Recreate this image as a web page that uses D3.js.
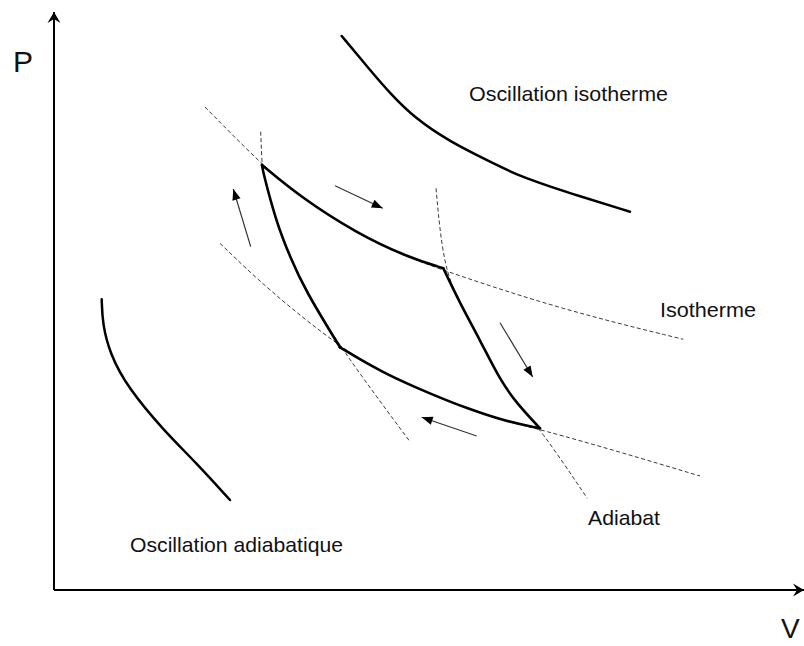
<!DOCTYPE html>
<html>
<head>
<meta charset="utf-8">
<script src="https://cdn.jsdelivr.net/npm/d3@7"></script>
<style>
  html, body { margin: 0; padding: 0; background: #fff; }
  svg { display: block; }
  text { font-family: "Liberation Sans", Arial, sans-serif; fill: #111; }
</style>
</head>
<body>
<svg id="chart" width="804" height="646"></svg>
<script>
// ---- Data (V, P) in arbitrary units ----
const axisLabels = { x: "V", y: "P" };

const oscIsotherme = [[28.77,55.4],[31.6,52.0],[33.6,49.67],[36.1,47.17],[39.6,44.83],[43.27,43.0],[46.6,41.33],[51.6,39.67],[57.6,37.83]];
const oscAdiabatique = [[4.77,29.07],[4.85,26.6],[5.6,23.6],[7.4,20.2],[10.93,16.0],[14.27,12.67],[17.6,9.0]];

// Cycle segments
const isoHot = [[20.8,42.5],[24.6,39.33],[30.27,35.67],[35.27,33.33],[38.93,32.17]];
const adiaDown = [[38.93,32.17],[40.6,28.67],[42.6,25.0],[44.6,21.0],[46.27,18.67],[48.6,16.17]];
const isoCold = [[48.6,16.17],[45.27,16.83],[41.27,18.17],[37.93,19.5],[32.93,21.67],[28.6,24.27]];
const adiaUp = [[28.6,24.27],[25.1,30.0],[23.6,33.33],[22.27,36.67],[20.93,41.67],[20.8,42.5]];

// Dashed guide curves
const guideIsoHot = [[15.1,48.3],[20.8,42.5],[24.6,39.33],[30.27,35.67],[35.27,33.33],[39.27,31.83],[50.93,28.0],[62.93,25.07]];
const guideIsoCold = [[16.6,34.67],[21.43,30.0],[28.6,24.27],[32.93,21.67],[37.93,19.5],[41.27,18.17],[45.27,16.83],[48.6,16.07],[56.6,13.8],[64.6,11.4]];
const guideAdiaLeft = [[20.67,45.83],[20.8,42.5],[20.93,41.67],[22.27,36.67],[23.6,33.33],[25.1,30.0],[28.6,24.27],[35.6,14.83]];
const guideAdiaRight = [[38.2,40.17],[38.93,32.3],[40.6,28.67],[42.6,25.0],[44.6,21.0],[46.27,18.67],[48.6,16.17],[53.33,9.17]];

// Direction arrows [from, to]
const arrows = [
  [[19.67,34.33],[17.93,40.1]],
  [[28.1,40.43],[32.87,38.17]],
  [[44.6,26.73],[47.87,21.3]],
  [[42.27,15.4],[36.77,17.27]]
];

const labels = [
  { text: "Oscillation isotherme", v: 41.5, p: 48.9, len: 199 },
  { text: "Isotherme", v: 60.6, p: 27.33, len: 96 },
  { text: "Adiabat", v: 53.4, p: 6.5, len: 72 },
  { text: "Oscillation adiabatique", v: 7.6, p: 3.83, len: 213 }
];

// ---- Scales ----
const x = d3.scaleLinear().domain([0, 75]).range([54, 804]);
const y = d3.scaleLinear().domain([0, 57.8]).range([590, 12]);

const svg = d3.select("#chart");
const defs = svg.append("defs");

defs.append("marker").attr("id", "axisHead")
  .attr("viewBox", "-12 -8 14 16").attr("refX", 0).attr("refY", 0)
  .attr("markerWidth", 14).attr("markerHeight", 16)
  .attr("markerUnits", "userSpaceOnUse").attr("orient", "auto")
  .append("path").attr("d", "M0,0 L-11,-6.5 L-7,0 L-11,6.5 Z").attr("fill", "#000");

defs.append("marker").attr("id", "smallHead")
  .attr("viewBox", "-12 -6 14 12").attr("refX", 0).attr("refY", 0)
  .attr("markerWidth", 14).attr("markerHeight", 12)
  .attr("markerUnits", "userSpaceOnUse").attr("orient", "auto")
  .append("path").attr("d", "M0,0 L-11,-4.2 L-11,4.2 Z").attr("fill", "#000");

const line = d3.line().x(d => x(d[0])).y(d => y(d[1])).curve(d3.curveBasis);
const guideLine = d3.line().x(d => x(d[0])).y(d => y(d[1])).curve(d3.curveBasis);

// Axes
svg.append("line")
  .attr("x1", x(0)).attr("y1", y(0)).attr("x2", x(0)).attr("y2", y(57.8))
  .attr("stroke", "#000").attr("stroke-width", 2).attr("marker-end", "url(#axisHead)");
svg.append("line")
  .attr("x1", x(0)).attr("y1", y(0)).attr("x2", x(75)).attr("y2", y(0))
  .attr("stroke", "#000").attr("stroke-width", 2).attr("marker-end", "url(#axisHead)");

svg.append("text").attr("x", 13).attr("y", 72).attr("font-size", 30).text(axisLabels.y);
svg.append("text").attr("x", 781).attr("y", 638).attr("font-size", 28).text(axisLabels.x);

// Dashed guides
[guideIsoHot, guideIsoCold, guideAdiaLeft, guideAdiaRight].forEach(g => {
  svg.append("path").attr("d", guideLine(g))
    .attr("fill", "none").attr("stroke", "#3a3a3a").attr("stroke-width", 1)
    .attr("stroke-dasharray", "4,2.5");
});

// Oscillation curves
[oscIsotherme, oscAdiabatique].forEach(c => {
  svg.append("path").attr("d", line(c))
    .attr("fill", "none").attr("stroke", "#000").attr("stroke-width", 2.5)
    .attr("stroke-linecap", "round");
});

// Cycle
[isoHot, adiaDown, isoCold, adiaUp].forEach(c => {
  svg.append("path").attr("d", line(c))
    .attr("fill", "none").attr("stroke", "#000").attr("stroke-width", 2.6)
    .attr("stroke-linecap", "round").attr("stroke-linejoin", "round");
});

// Arrows
arrows.forEach(a => {
  svg.append("line")
    .attr("x1", x(a[0][0])).attr("y1", y(a[0][1]))
    .attr("x2", x(a[1][0])).attr("y2", y(a[1][1]))
    .attr("stroke", "#333").attr("stroke-width", 1.2)
    .attr("marker-end", "url(#smallHead)");
});

// Labels
labels.forEach(l => {
  svg.append("text").attr("x", x(l.v)).attr("y", y(l.p))
    .attr("font-size", 21)
    .attr("textLength", l.len).attr("lengthAdjust", "spacingAndGlyphs")
    .text(l.text);
});
</script>
</body>
</html>
